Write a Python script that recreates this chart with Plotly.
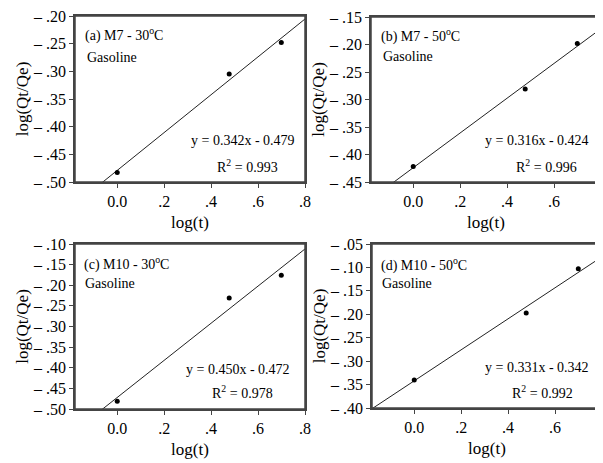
import plotly.graph_objects as go

# ---- data ----
log_t = [0.0, 0.477, 0.699]
panel_labels = ["(a) M7 - 30<sup>o</sup>C", "(b) M7 - 50<sup>o</sup>C",
                "(c) M10 - 30<sup>o</sup>C", "(d) M10 - 50<sup>o</sup>C"]
fuel = "Gasoline"
y_a = [-0.483, -0.305, -0.248]
y_b = [-0.422, -0.281, -0.198]
y_c = [-0.481, -0.231, -0.176]
y_d = [-0.340, -0.197, -0.103]
slopes = [0.342, 0.316, 0.450, 0.331]
intercepts = [-0.479, -0.424, -0.472, -0.342]
r2 = ["0.993", "0.996", "0.978", "0.992"]
y_ranges = [(-0.50, -0.20), (-0.45, -0.15), (-0.50, -0.10), (-0.40, -0.05)]
x_range = (-0.18, 0.80)
x_tickvals = [0.0, 0.2, 0.4, 0.6, 0.8]
x_ticktext = ["0.0", ".2", ".4", ".6", ".8"]

series = [y_a, y_b, y_c, y_d]

# the page adds an 8px body margin; size the figure so it fills the 603x463 window
OFF = 8
W, H = 603 - OFF, 463 - OFF
# panel pixel boxes in window coordinates: left, right, top, bottom
boxes = [(75, 305, 16, 182), (371, 601, 17, 182), (75, 305, 244, 409), (372, 602, 244, 408)]

FONT = "Liberation Serif, Times New Roman, serif"
LINE = "#444"
fig = go.Figure()

def ytick_text(v):
    s = f"{abs(v):.2f}".lstrip("0")
    return "\u2013 " + s if v < 0 else s

shapes = []
for i in range(4):
    xa = "x" if i == 0 else f"x{i+1}"
    ya = "y" if i == 0 else f"y{i+1}"
    l, r, t, b = [v - OFF for v in boxes[i]]
    lx = [x_range[0], x_range[1]]
    ly = [slopes[i] * v + intercepts[i] for v in lx]
    fig.add_trace(go.Scatter(x=lx, y=ly, mode="lines", line=dict(color="#222", width=1),
                             xaxis=xa, yaxis=ya, showlegend=False, hoverinfo="skip"))
    fig.add_trace(go.Scatter(x=log_t, y=series[i], mode="markers",
                             marker=dict(color="black", size=5),
                             xaxis=xa, yaxis=ya, showlegend=False))
    y0, y1 = y_ranges[i]
    n = int(round((y1 - y0) / 0.05))
    yt = [round(y0 + k * 0.05, 2) for k in range(n + 1)]
    axis_common = dict(showgrid=False, zeroline=False, showline=True, linecolor=LINE, linewidth=1.5,
                       ticks="outside", ticklen=4, tickcolor=LINE, automargin=False, mirror=True,
                       ticklabeloverflow="allow",
                       tickfont=dict(family=FONT, size=16, color="black"))
    xkey = "xaxis" if i == 0 else f"xaxis{i+1}"
    ykey = "yaxis" if i == 0 else f"yaxis{i+1}"
    fig.update_layout({
        xkey: dict(domain=[l / W, min(r / W, 1.0)], anchor=ya, range=list(x_range),
                   tickvals=x_tickvals, ticktext=x_ticktext,
                   title=dict(text="log(t)", font=dict(family=FONT, size=17, color="black"), standoff=7),
                   **axis_common),
        ykey: dict(domain=[1 - b / H, 1 - t / H], anchor=xa, range=[y0, y1],
                   tickvals=yt, ticktext=[ytick_text(v) for v in yt],
                   title=dict(text="log(Qt/Qe)", font=dict(family=FONT, size=17, color="black"), standoff=0),
                   **axis_common),
    })
    shapes.append(dict(type="rect", xref=f"{xa} domain", yref=f"{ya} domain", x0=0, x1=1, y0=0, y1=1,
                       line=dict(color=LINE, width=1.5), fillcolor="rgba(0,0,0,0)", layer="above"))

# annotations (fractions of each axis domain)
ann_pos = [
    dict(lab=(0.035, 0.886), gas=(0.043, 0.753), eq=(0.73, 0.247), r2=(0.748, 0.096)),
    dict(lab=(0.035, 0.885), gas=(0.043, 0.758), eq=(0.72, 0.25), r2=(0.765, 0.10)),
    dict(lab=(0.03, 0.879), gas=(0.035, 0.758), eq=(0.71, 0.242), r2=(0.727, 0.103)),
    dict(lab=(0.03, 0.878), gas=(0.035, 0.76), eq=(0.717, 0.244), r2=(0.74, 0.10)),
]
anns = []
for i in range(4):
    xa = "x" if i == 0 else f"x{i+1}"
    ya = "y" if i == 0 else f"y{i+1}"
    p = ann_pos[i]
    f = dict(family=FONT, size=14, color="black")
    anns.append(dict(text=panel_labels[i], x=p["lab"][0], y=p["lab"][1], xref=f"{xa} domain", yref=f"{ya} domain",
                     xanchor="left", yanchor="middle", showarrow=False, font=f))
    anns.append(dict(text=fuel, x=p["gas"][0], y=p["gas"][1], xref=f"{xa} domain", yref=f"{ya} domain",
                     xanchor="left", yanchor="middle", showarrow=False, font=f))
    sign = "-" if intercepts[i] < 0 else "+"
    eq = f"y = {slopes[i]:.3f}x {sign} {abs(intercepts[i]):.3f}"
    anns.append(dict(text=eq, x=p["eq"][0], y=p["eq"][1], xref=f"{xa} domain", yref=f"{ya} domain",
                     xanchor="center", yanchor="middle", showarrow=False, font=f))
    anns.append(dict(text=f"R<sup>2</sup> = {r2[i]}", x=p["r2"][0], y=p["r2"][1], xref=f"{xa} domain",
                     yref=f"{ya} domain", xanchor="center", yanchor="middle", showarrow=False, font=f))

fig.update_layout(width=W, height=H, margin=dict(l=0, r=0, t=0, b=0),
                  paper_bgcolor="white", plot_bgcolor="white", annotations=anns, shapes=shapes,
                  font=dict(family=FONT, color="black"))
fig.write_html("out.html")
